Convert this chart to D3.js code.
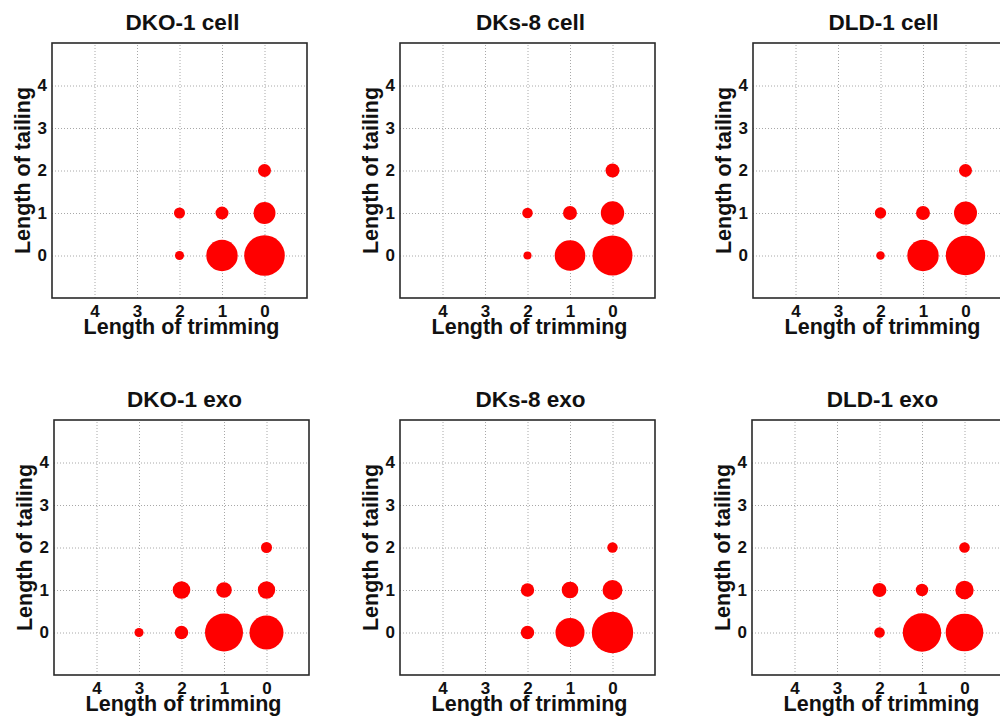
<!DOCTYPE html>
<html>
<head>
<meta charset="utf-8">
<script src="https://cdn.jsdelivr.net/npm/d3@7"></script>
<style>
  html, body { margin: 0; padding: 0; background: #fff; }
  svg { display: block; font-family: "Liberation Sans", Arial, Helvetica, sans-serif; }
</style>
</head>
<body>
<svg id="chart" width="1000" height="719"></svg>
<script>
// ---- data ----
const panelTitles = ["DKO-1 cell", "DKs-8 cell", "DLD-1 cell", "DKO-1 exo", "DKs-8 exo", "DLD-1 exo"];
const trimTicks = [4, 3, 2, 1, 0];
const tailTicks = [0, 1, 2, 3, 4];
const xLabel = "Length of trimming";
const yLabel = "Length of tailing";

// each entry: [trim, tail, percent]
const dko1Cell = [[0,0,45.8],[1,0,27.4],[2,0,2.3],[0,1,13.4],[1,1,4.7],[2,1,3.4],[0,2,4.7]];
const dks8Cell = [[0,0,44.4],[1,0,26.0],[2,0,1.8],[0,1,15.2],[1,1,5.4],[2,1,3.1],[0,2,5.4]];
const dld1Cell = [[0,0,43.1],[1,0,27.4],[2,0,2.0],[0,1,14.7],[1,1,5.4],[2,1,3.6],[0,2,4.7]];
const dko1Exo  = [[0,0,32.1],[1,0,40.1],[2,0,5.0],[3,0,2.3],[0,1,8.4],[1,1,6.8],[2,1,8.6],[0,2,3.4]];
const dks8Exo  = [[0,0,47.6],[1,0,23.4],[2,0,5.0],[0,1,11.1],[1,1,7.7],[2,1,5.0],[0,2,3.0]];
const dld1Exo  = [[0,0,39.3],[1,0,41.0],[2,0,3.1],[0,1,9.4],[1,1,4.3],[2,1,5.4],[0,2,3.1]];
const panelData = [dko1Cell, dks8Cell, dld1Cell, dko1Exo, dks8Exo, dld1Exo];

// ---- layout ----
const size = 255;
const positions = [
  {x: 52, y: 43}, {x: 400, y: 43}, {x: 753, y: 43},
  {x: 54, y: 420}, {x: 400, y: 420}, {x: 752, y: 420}
];

const svg = d3.select("#chart");
const x = d3.scaleLinear().domain([5, -1]).range([0, size]);
const y = d3.scaleLinear().domain([-1, 5]).range([size, 0]);
const r = d3.scaleSqrt().domain([0, 100]).range([0, 30]);

panelTitles.forEach((title, i) => {
  const p = positions[i];
  const g = svg.append("g").attr("transform", `translate(${p.x},${p.y})`);

  // grid + tick labels
  const xAxis = g.append("g")
    .attr("transform", `translate(0,${size})`)
    .call(d3.axisBottom(x).tickValues(trimTicks).tickSize(-size).tickPadding(7).tickFormat(d3.format("d")));
  const yAxis = g.append("g")
    .call(d3.axisLeft(y).tickValues(tailTicks).tickSize(-size).tickPadding(5).tickFormat(d3.format("d")));
  [xAxis, yAxis].forEach(a => {
    a.select(".domain").remove();
    a.selectAll(".tick line")
      .attr("stroke", "#a8a8a8")
      .attr("stroke-width", 1)
      .attr("stroke-dasharray", "1,2");
    a.selectAll(".tick text")
      .attr("fill", "#111")
      .style("font-size", "17px")
      .style("font-weight", "bold")
      .style("font-family", "'Liberation Sans', Arial, sans-serif");
  });

  // bubbles
  g.selectAll("circle.bubble")
    .data(panelData[i].slice().sort((a, b) => b[2] - a[2]))
    .join("circle")
    .attr("class", "bubble")
    .attr("cx", d => x(d[0]))
    .attr("cy", d => y(d[1]))
    .attr("r", d => r(d[2]))
    .attr("fill", "#ff0000");

  // frame
  g.append("rect")
    .attr("x", 0).attr("y", 0)
    .attr("width", size).attr("height", size)
    .attr("fill", "none")
    .attr("stroke", "#2a2a2a")
    .attr("stroke-width", 1.6);

  // title
  g.append("text")
    .attr("x", size / 2 + 3)
    .attr("y", -13)
    .attr("text-anchor", "middle")
    .style("font-size", "22.5px")
    .style("font-weight", "bold")
    .attr("fill", "#111")
    .text(title);

  // x label
  g.append("text")
    .attr("x", size / 2 + 2)
    .attr("y", size + 36)
    .attr("text-anchor", "middle")
    .style("font-size", "21.5px")
    .style("font-weight", "bold")
    .attr("fill", "#111")
    .text(xLabel);

  // y label
  g.append("text")
    .attr("transform", `translate(-30,${size / 2}) rotate(-90)`)
    .attr("text-anchor", "middle")
    .attr("dy", "0.36em")
    .style("font-size", "21.5px")
    .style("font-weight", "bold")
    .attr("fill", "#111")
    .text(yLabel);
});
</script>
</body>
</html>
